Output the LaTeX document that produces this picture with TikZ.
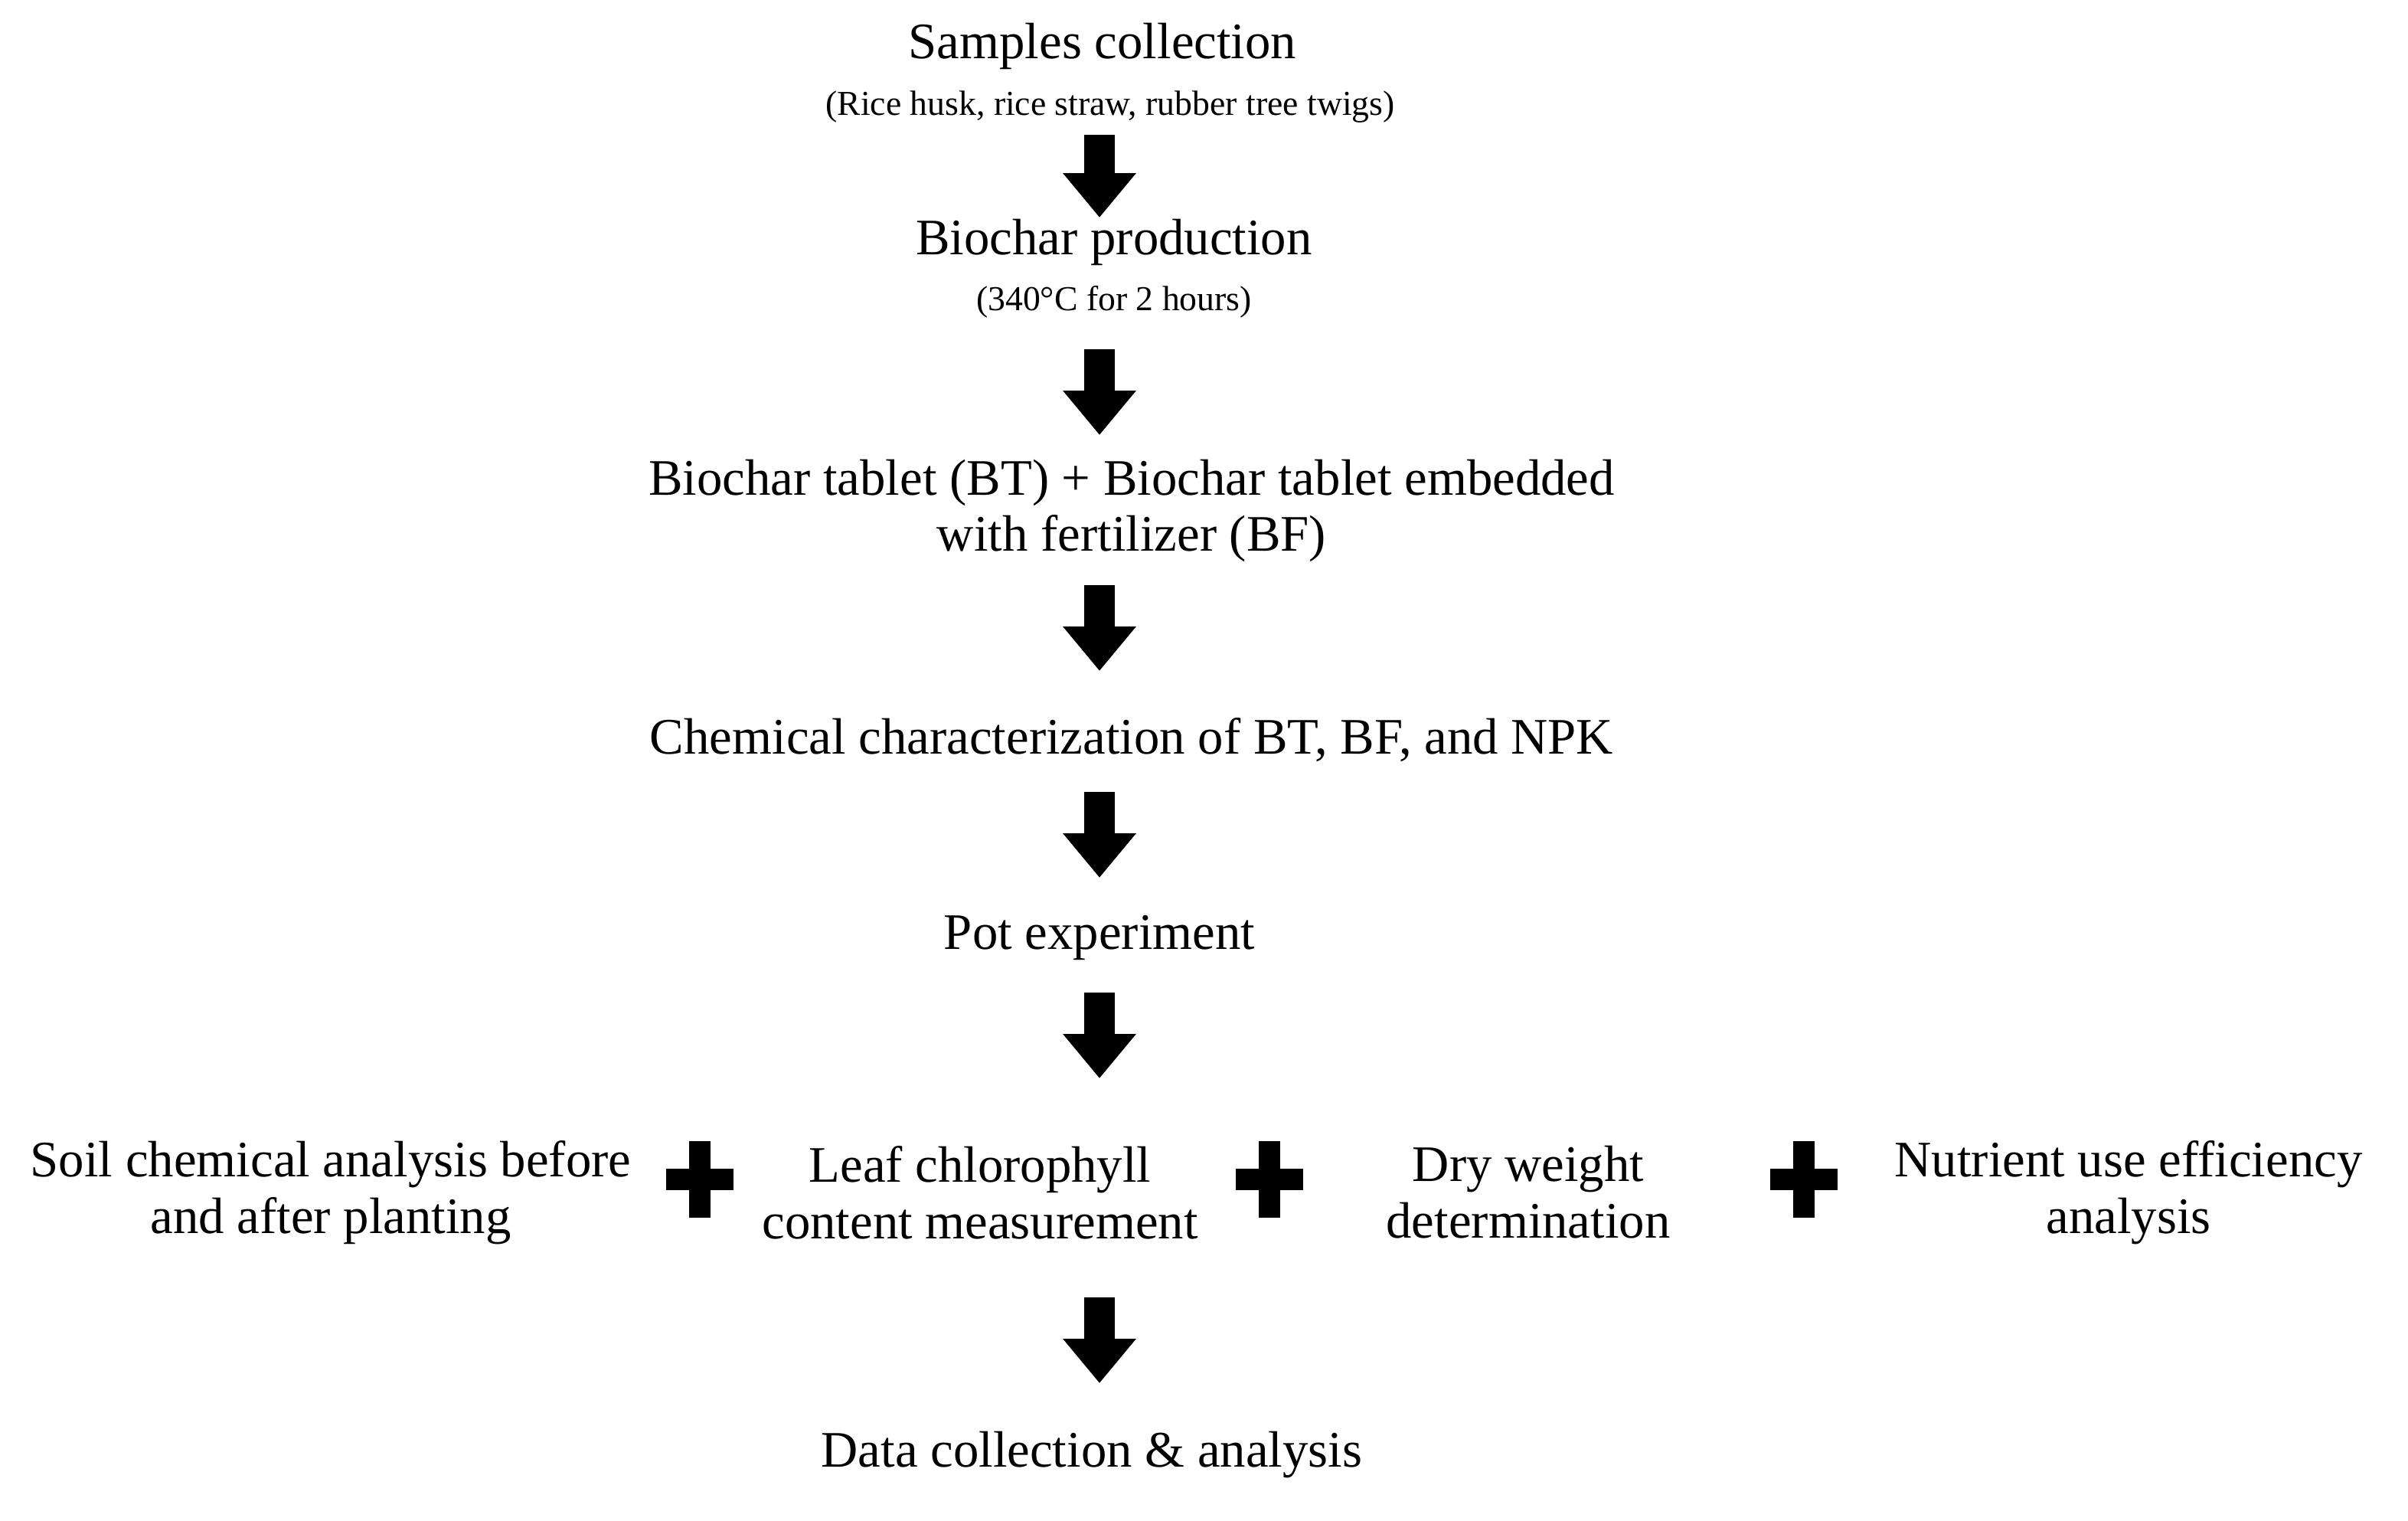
\documentclass[tikz,border=0pt]{standalone}
\usepackage{fontspec}
\setmainfont{Liberation Serif}
\usetikzlibrary{arrows.meta}
\begin{document}
\begin{tikzpicture}[x=1cm,y=1cm,
  main/.style={font=\fontsize{19}{23}\selectfont,align=center,inner sep=0pt},
  sub/.style={font=\fontsize{13}{15}\selectfont,align=center,inner sep=0pt},
  blk/.style={line width=0.4cm,-{Triangle[length=0.58cm,width=0.92cm]}},
  plus/.style={line width=0.28cm}]
\useasboundingbox (0,0) rectangle (31.45,-19.86);
\node[main] (s1) at (14.4,-0.6) {Samples collection};
\node[sub] (s1b) at (14.5,-1.4) {(Rice husk, rice straw, rubber tree twigs)};
\node[main] (s2) at (14.55,-3.16) {Biochar production};
\node[sub] (s2b) at (14.55,-3.94) {(340°C for 2 hours)};
\node[main] (s3) at (14.78,-6.67) {Biochar tablet (BT) + Biochar tablet embedded\\[-2pt]with fertilizer (BF)};
\node[main] (s4) at (14.78,-9.66) {Chemical characterization of BT, BF, and NPK};
\node[main] (s5) at (14.36,-12.24) {Pot experiment};
\node[main] (r1) at (4.32,-15.57) {Soil chemical analysis before\\[-2pt]and after planting};
\node[main] (r2) at (12.8,-15.57) {Leaf chlorophyll\\[-2pt]content measurement};
\node[main] (r3) at (19.96,-15.57) {Dry weight\\[-2pt]determination};
\node[main] (r4) at (27.8,-15.57) {Nutrient use efficiency\\[-2pt]analysis};
\node[main] (s6) at (14.26,-19.0) {Data collection \& analysis};
\foreach \i/\t/\b in {1/1.76/2.84, 2/4.56/5.68, 3/7.64/8.76, 4/10.34/11.46, 5/12.96/14.08, 6/16.94/18.06}{
  \coordinate (a\i t) at (14.36,-\t);
  \coordinate (a\i b) at (14.36,-\b);
  \draw[blk] (a\i t) -- (a\i b);
}
\foreach \j/\x in {1/9.14, 2/16.58, 3/23.56}{
  \coordinate (p\j) at (\x,-15.4);
  \draw[plus] ([xshift=-0.44cm]p\j) -- ([xshift=0.44cm]p\j);
  \draw[plus] ([yshift=-0.5cm]p\j) -- ([yshift=0.5cm]p\j);
}
\end{tikzpicture}
\end{document}
